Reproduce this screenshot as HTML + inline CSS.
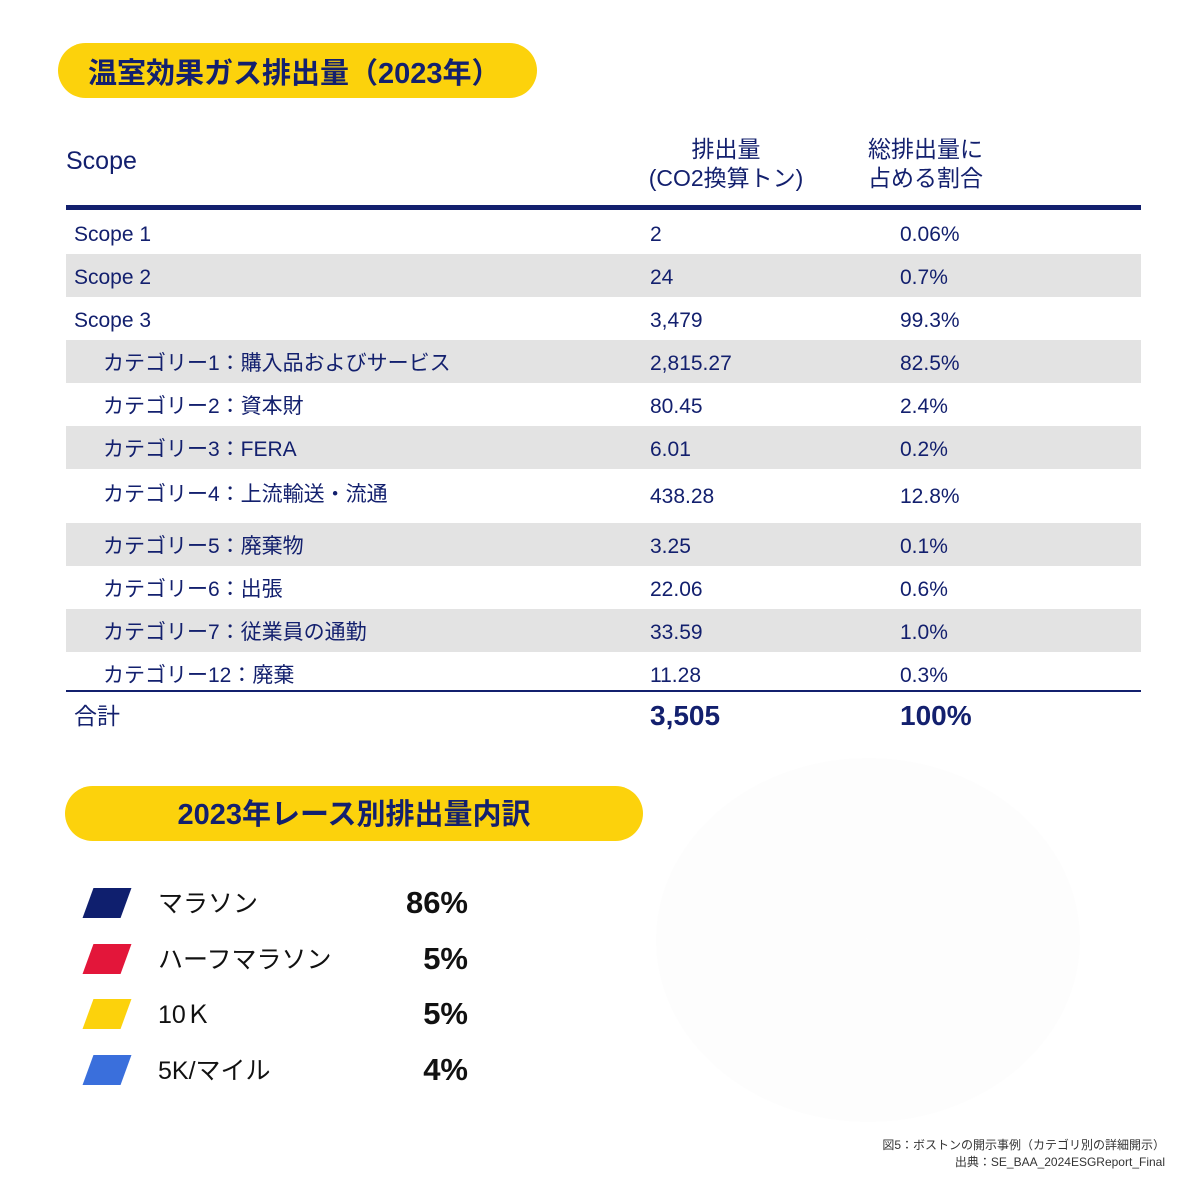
<!DOCTYPE html>
<html><head><meta charset="utf-8">
<style>
body{margin:0;width:1200px;height:1189px;background:#fff;position:relative;overflow:hidden;font-family:"Liberation Sans","Noto Sans CJK JP",sans-serif;color:#13206e}
.a{position:absolute;white-space:nowrap}
.pill{position:absolute;background:#fcd20c;border-radius:28px}
.row{position:absolute;left:66px;width:1075px}
.row span{position:absolute;top:0;font-size:21px;line-height:44px}
.g{background:#e3e3e3}
.sw{position:absolute;width:38px;height:30px;transform:skewX(-20deg)}
.lab{position:absolute;left:158px;font-size:25px;color:#111;line-height:30px}
.pct{position:absolute;right:732px;font-size:31px;font-weight:bold;color:#111;line-height:30px}
</style></head><body>
<div class="pill" style="left:58px;top:43px;width:479px;height:55px"></div>
<div class="a" style="left:88px;top:54px;font-size:29px;font-weight:bold;line-height:40px">温室効果ガス排出量（2023年）</div>

<div class="a" style="left:66px;top:145px;font-size:25px;line-height:32px">Scope</div>
<div class="a" style="left:646px;top:135px;font-size:23px;text-align:center;line-height:29px;width:160px">排出量<br>(CO2換算トン)</div>
<div class="a" style="left:868px;top:135px;font-size:23px;line-height:29px">総排出量に<br>占める割合</div>
<div class="a" style="left:66px;top:205px;width:1075px;height:5px;background:#13206e"></div>

<div id="rows"></div>

<div class="a" style="left:66px;top:690px;width:1075px;height:2px;background:#13206e"></div>
<div class="a" style="left:74px;top:700px;font-size:23px;line-height:32px">合計</div>
<div class="a" style="left:650px;top:700px;font-size:28px;font-weight:bold;line-height:32px">3,505</div>
<div class="a" style="left:900px;top:700px;font-size:28px;font-weight:bold;line-height:32px">100%</div>

<div class="pill" style="left:65px;top:786px;width:578px;height:55px"></div>
<div class="a" style="left:65px;width:578px;text-align:center;top:795px;font-size:29px;font-weight:bold;line-height:40px">2023年レース別排出量内訳</div>

<svg class="a" style="left:640px;top:740px" width="480" height="400"><g id="pie"></g></svg>
<div id="legend"></div>

<div class="a" style="right:35px;top:1137px;font-size:12px;color:#333;text-align:right;line-height:17px">図5：ボストンの開示事例（カテゴリ別の詳細開示）<br>出典：SE_BAA_2024ESGReport_Final</div>

<script>
const rowLabels=["Scope 1","Scope 2","Scope 3","カテゴリー1：購入品およびサービス","カテゴリー2：資本財","カテゴリー3：FERA","カテゴリー4：上流輸送・流通","カテゴリー5：廃棄物","カテゴリー6：出張","カテゴリー7：従業員の通勤","カテゴリー12：廃棄"];
const rowValues=["2","24","3,479","2,815.27","80.45","6.01","438.28","3.25","22.06","33.59","11.28"];
const rowPcts=["0.06%","0.7%","99.3%","82.5%","2.4%","0.2%","12.8%","0.1%","0.6%","1.0%","0.3%"];
const rowsEl=document.getElementById('rows');
let y=211;
rowLabels.forEach((l,i)=>{
  const h=(i===6)?54:43;
  const r=document.createElement('div');
  r.className='row'+(i%2===1?' g':'');
  r.style.top=y+'px';r.style.height=h+'px';
  
  
  const t=(i===6)?4:2;
  r.innerHTML=`<span style="left:${i>2?37:8}px;top:${t}px">${l}</span><span style="left:584px;top:${t+(i===6?2:0)}px">${rowValues[i]}</span><span style="left:834px;top:${t+(i===6?2:0)}px">${rowPcts[i]}</span>`;
  rowsEl.appendChild(r);
  y+=h;
});
const races=["マラソン","ハーフマラソン","10Ｋ","5K/マイル"];
const shares=[86,5,5,4];
const colors=["#0f1f6e","#e3163a","#fcd20c","#3a6fdc"];
const lg=document.getElementById('legend');
races.forEach((n,i)=>{
  const top=888+i*55.7;
  const s=document.createElement('div');s.className='sw';
  s.style.left='88px';s.style.top=top+'px';s.style.background=colors[i];
  
  
  lg.appendChild(s);
  const a=document.createElement('div');a.className='lab';a.style.top=(top+1)+'px';a.textContent=n;
  
  
  lg.appendChild(a);
  const p=document.createElement('div');p.className='pct';p.style.top=(top)+'px';p.textContent=shares[i]+'%';
  
  
  lg.appendChild(p);
});
const pie=document.getElementById('pie');
const cx=228,cy=200,rx=212,ry=182;
const tot=shares.reduce((a,b)=>a+b,0);
let ang=-Math.PI/2;
shares.forEach((v,i)=>{
  const a2=ang+v/tot*2*Math.PI;
  const x1=cx+rx*Math.cos(ang),y1=cy+ry*Math.sin(ang),x2=cx+rx*Math.cos(a2),y2=cy+ry*Math.sin(a2);
  const p=document.createElementNS('http://www.w3.org/2000/svg','path');
  p.setAttribute('d',`M${cx},${cy}L${x1},${y1}A${rx},${ry} 0 ${a2-ang>Math.PI?1:0} 1 ${x2},${y2}Z`);
  p.setAttribute('fill','#fdfdfd');
  
  
  pie.appendChild(p);
  ang=a2;
});
</script>
</body></html>
